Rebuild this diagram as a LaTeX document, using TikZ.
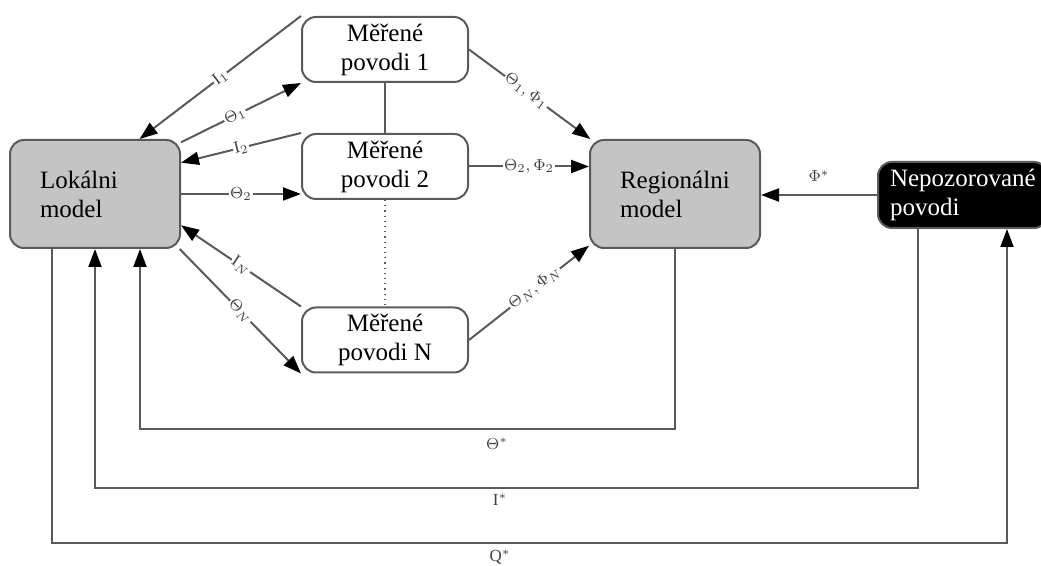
\documentclass[tikz,border=0pt]{standalone}
\usepackage{fontspec}
\setmainfont{Liberation Serif}
\usetikzlibrary{arrows.meta}
\definecolor{linegray}{HTML}{5A5A5A}
\definecolor{boxgray}{HTML}{C4C4C4}

\begin{document}
\begin{tikzpicture}[x = 0.5pt, y = -0.5pt, font = \fontsize{12.5}{14.5}\selectfont,
	box/.style = {rectangle, rounded corners = 7pt, draw = linegray, line width = 1pt, inner sep = 0pt},
	model/.style = {box, fill = boxgray, text width = 55pt, inner xsep = 15pt, minimum height = 54pt, align = left},
	basin/.style = {box, fill = white, minimum width = 83pt, minimum height = 32.5pt, align = center},
	unobs/.style = {box, fill = black, text = white, text width = 73pt, inner xsep = 6pt, minimum height = 33pt, align = left},
	link/.style = {draw = linegray, line width = 1pt, -{Triangle[length = 9pt, width = 6.5pt, color = black, fill = black]}},
	lbl/.style = {font = \fontsize{8.5}{9}\selectfont, text = black!75, fill = white, inner sep = 0.5pt, sloped},
	tag/.style = {font = \fontsize{8.5}{9}\selectfont, text = black!75, inner sep = 1pt}]

	\useasboundingbox (0, 0) rectangle (1041, 566);

	\node [model] (lok) at (95, 194) {Lokálni\\model};
	\node [model] (reg) at (675, 194) {Regionálni\\model};
	\node [basin] (m1) at (385, 49.5) {Měřené\\povodi 1};
	\node [basin] (m2) at (385, 166.5) {Měřené\\povodi 2};
	\node [basin] (mN) at (385, 340) {Měřené\\povodi N};
	\node [unobs] (nep) at (963, 195) {Nepozorované\\povodi};

	\draw [draw = linegray, line width = 1pt] (m1.south) -- (m2.north);
	\draw [draw = linegray, line width = 0.6pt, dotted] (m2.south) -- (mN.north);

	\draw [link] (m1.north west) -- node [lbl] {$\mathrm{I}_1$} (lok.51.5);
	\draw [link] (lok.31.6) -- node [lbl, pos = 0.45] {$\Theta_1$} (m1.south west);
	\draw [link] (m2.north west) -- node [lbl] {$\mathrm{I}_2$} (lok.20);
	\draw [link] (lok.east) -- node [lbl] {$\Theta_2$} (lok.east -| m2.west);
	\draw [link] (mN.north west) -- node [lbl] {$\mathrm{I}_N$} (lok.-20);
	\draw [link] (lok.-33) -- node [lbl] {$\Theta_N$} (mN.south west);

	\draw [link] (m1.east) -- node [lbl, pos = 0.47] {$\Theta_1,\Phi_1$} (reg.147);
	\draw [link] (m2.east) -- node [lbl] {$\Theta_2,\Phi_2$} (m2.east -| reg.west);
	\draw [link] (mN.east) -- node [lbl, pos = 0.55] {$\Theta_N,\Phi_N$} (reg.211);

	\draw [link] (nep.west) -- node [tag, above = 5pt] {$\Phi^*$} (nep.west -| reg.east);

	\draw [link] (reg.south) -- ++(0, 180) -| ([xshift = 22.5pt] lok.south);
	\draw [link] ([xshift = -22.5pt] nep.south) -- ++(0, 259) -| (lok.south);
	\draw [link] ([xshift = -21.5pt] lok.south) -- ++(0, 294) -| ([xshift = 22pt] nep.south);

	\node [tag] (ths) at (497, 444) {$\Theta^*$};
	\node [tag] (is) at (500, 500) {$\mathrm{I}^*$};
	\node [tag] (qs) at (500, 557) {$\mathrm{Q}^*$};

\end{tikzpicture}
\end{document}
